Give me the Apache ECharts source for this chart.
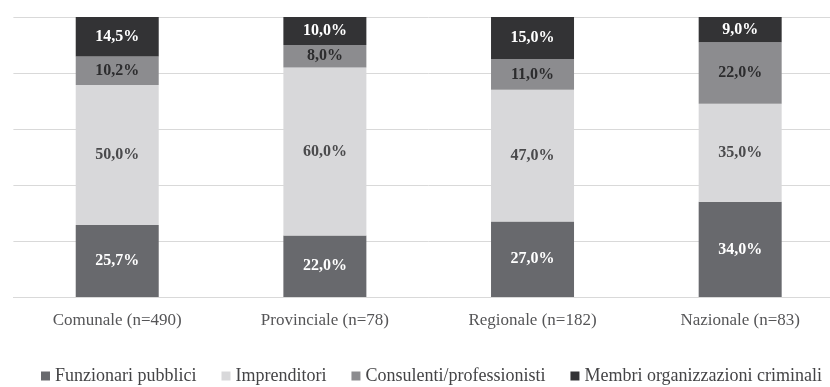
<!DOCTYPE html>
<html>
<head>
<meta charset="utf-8">
<script src="https://cdn.jsdelivr.net/npm/echarts@6/dist/echarts.min.js"></script>
<style>
  html, body { margin: 0; padding: 0; background: #ffffff; overflow: hidden; }
  #chart { width: 844px; height: 387px; }
</style>
</head>
<body>
<div id="chart"></div>
<script>
// Ambito territoriale del caso e ruolo dei soggetti coinvolti (percentuali)
const categories = ['Comunale (n=490)', 'Provinciale (n=78)', 'Regionale (n=182)', 'Nazionale (n=83)'];
const seriesNames = ['Funzionari pubblici', 'Imprenditori', 'Consulenti/professionisti', 'Membri organizzazioni criminali'];
const funzionari = [25.7, 22.0, 27.0, 34.0];
const imprenditori = [50.0, 60.0, 47.0, 35.0];
const consulenti = [10.2, 8.0, 11.0, 22.0];
const membri = [14.5, 10.0, 15.0, 9.0];
const yTicks = [0, 20, 40, 60, 80, 100];

const colors = ['#68696d', '#d8d8da', '#8c8c8f', '#333335'];
const labelColors = ['#ffffff', '#4a4a4c', '#2c2c2e', '#ffffff'];
const values = [funzionari, imprenditori, consulenti, membri];

const fmt = v => v.toFixed(1).replace('.', ',') + '%';
const serif = '"Liberation Serif", "Times New Roman", serif';

const chart = echarts.init(document.getElementById('chart'), null, { renderer: 'canvas' });

chart.setOption({
  animation: false,
  backgroundColor: '#ffffff',
  grid: { left: 13.4, right: 0, top: 17, bottom: 90, containLabel: false },
  legend: {
    left: 36,
    top: 362,
    itemWidth: 9,
    itemHeight: 9,
    itemGap: 25,
    icon: 'rect',
    textStyle: { fontFamily: serif, fontSize: 18, color: '#444446' },
    data: seriesNames
  },
  xAxis: {
    type: 'category',
    data: categories,
    axisLine: { show: true, lineStyle: { color: '#d9d9d9', width: 1 } },
    axisTick: { show: false },
    axisLabel: { fontFamily: serif, fontSize: 17, color: '#555557', margin: 15 }
  },
  yAxis: {
    type: 'value',
    min: yTicks[0],
    max: yTicks[yTicks.length - 1],
    interval: yTicks[1] - yTicks[0],
    axisLabel: { show: false },
    axisLine: { show: false },
    axisTick: { show: false },
    splitLine: { show: true, lineStyle: { color: '#d9d9d9', width: 1 } }
  },
  series: seriesNames.map((name, i) => ({
    name: name,
    type: 'bar',
    stack: 'totale',
    barWidth: 83,
    data: values[i],
    itemStyle: { color: colors[i] },
    label: {
      show: true,
      position: 'inside',
      formatter: p => fmt(p.value),
      fontFamily: serif,
      fontWeight: 'bold',
      fontSize: 16,
      color: labelColors[i]
    }
  }))
});
</script>
</body>
</html>
